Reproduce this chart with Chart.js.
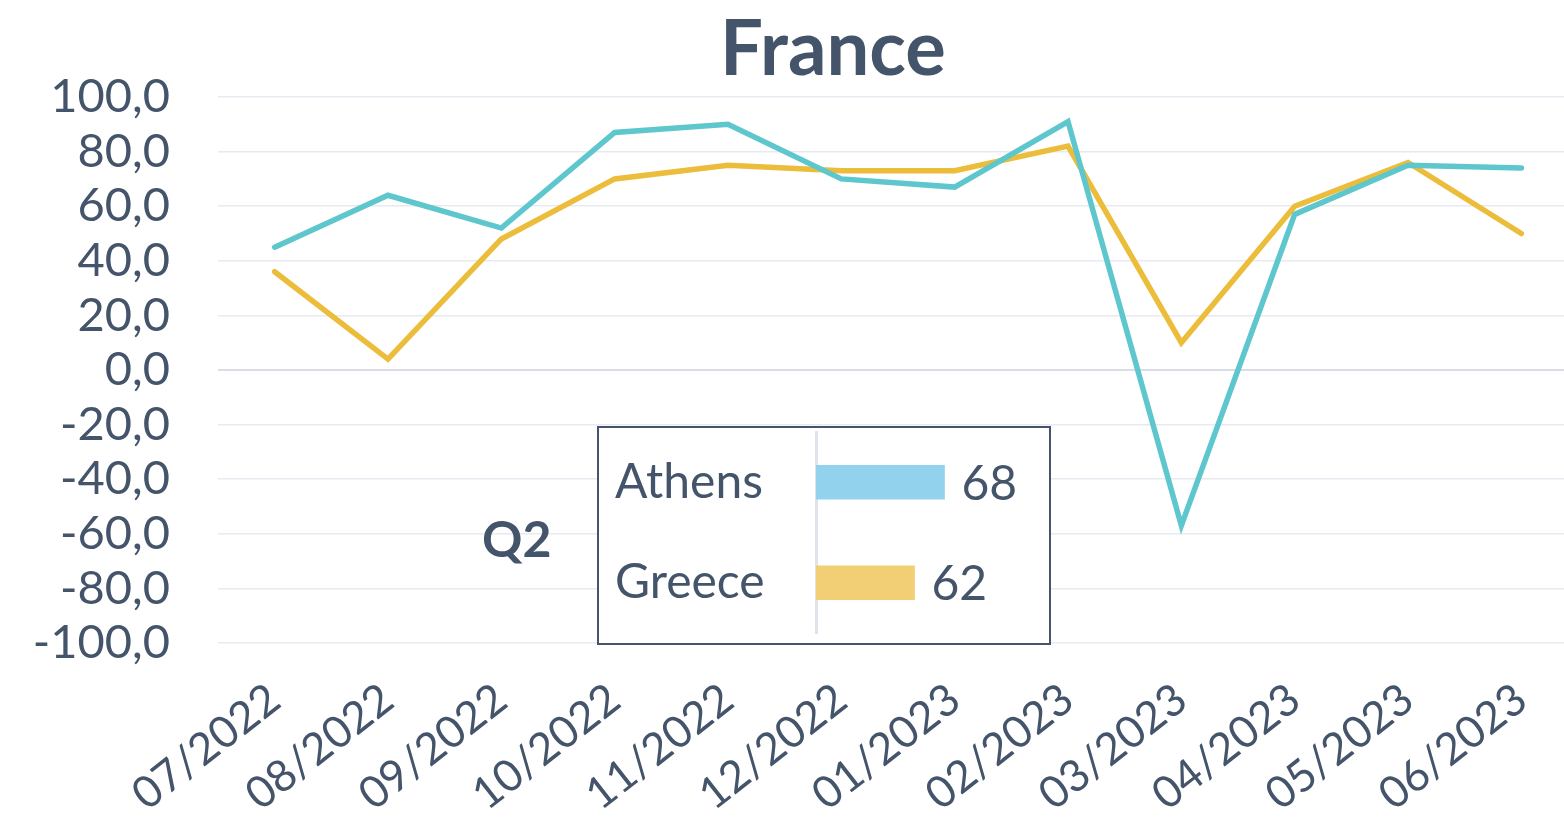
<!DOCTYPE html>
<html>
<head>
<meta charset="utf-8">
<script src="https://cdn.jsdelivr.net/npm/chart.js@4.4.0/dist/chart.umd.min.js"></script>
<style>
  html, body { margin: 0; padding: 0; background: #fff; overflow: hidden; }
  #wrap { position: relative; width: 1578px; height: 820px; }
  #main { position: absolute; left: 0; top: 0; }
  #inset {
    position: absolute; left: 597px; top: 426px; width: 454px; height: 219px;
    box-sizing: border-box; border: 2px solid #44546a; background: #fff;
  }
</style>
</head>
<body>
<div id="wrap">
  <canvas id="main" width="1578" height="820"></canvas>
  <div id="inset"><canvas id="bars" width="450" height="215"></canvas></div>
</div>
<script>
const months = ["07/2022", "08/2022", "09/2022", "10/2022", "11/2022", "12/2022",
  "01/2023", "02/2023", "03/2023", "04/2023", "05/2023", "06/2023"];
const athens = [45, 64, 52, 87, 90, 70, 67, 91, -57, 57, 75, 74];
const greece = [36, 4, 48, 70, 75, 73, 73, 82, 10, 60, 76, 50];

const q2Names = ["Athens", "Greece"];
const q2Values = [68, 62];

const textColor = "#44546a";
const teal = "#5ec6cd";
const yellow = "#ecbd3b";

// title and Q2 label
const extraText = {
  id: "extraText",
  afterDraw(chart) {
    const c = chart.ctx;
    c.save();
    c.fillStyle = textColor;
    c.textBaseline = "alphabetic";
    c.textAlign = "center";
    c.font = "bold 76px Lato";
    c.fillText("France", 833, 75);
    c.textAlign = "left";
    c.font = "bold 50px Lato";
    c.fillText("Q2", 482, 557);
    c.restore();
  }
};

new Chart(document.getElementById("main").getContext("2d"), {
  type: "line",
  data: {
    labels: months,
    datasets: [
      { label: "Athens", data: athens, borderColor: teal, backgroundColor: teal,
        borderWidth: 5.5, pointRadius: 0, tension: 0, borderCapStyle: "round" },
      { label: "Greece", data: greece, borderColor: yellow, backgroundColor: yellow,
        borderWidth: 5.5, pointRadius: 0, tension: 0, borderCapStyle: "round" }
    ]
  },
  options: {
    responsive: false,
    animation: false,
    layout: { padding: { left: 0, top: 97, right: 0, bottom: 0 } },
    plugins: { legend: { display: false }, tooltip: { enabled: false } },
    scales: {
      x: {
        offset: true,
        grid: { display: false },
        border: { display: false },
        ticks: {
          color: textColor, font: { family: "Lato", size: 44 },
          minRotation: 38, maxRotation: 38, autoSkip: false, padding: 22
        },
        afterFit(scale) {
          scale.height = 177;
          scale.paddingLeft = 0;
          scale.paddingRight = 0;
        }
      },
      y: {
        min: -100, max: 100,
        border: { display: false },
        grid: {
          color: (ctx) => ctx.tick && ctx.tick.value === 0 ? "#d9dde5" : "#e7eaf0",
          lineWidth: (ctx) => ctx.tick && ctx.tick.value === 0 ? 2 : 1.5,
          drawTicks: false
        },
        ticks: {
          stepSize: 20, autoSkip: false, color: textColor, font: { family: "Lato", size: 47 }, padding: 48,
          callback: (v) => v.toFixed(1).replace(".", ",")
        },
        afterFit(scale) {
          scale.width = 218;
          scale.paddingTop = 0;
          scale.paddingBottom = 0;
        }
      }
    }
  },
  plugins: [extraText]
});

// value labels next to the inset bars
const barValues = {
  id: "barValues",
  afterDatasetsDraw(chart) {
    const c = chart.ctx;
    const meta = chart.getDatasetMeta(0);
    c.save();
    c.fillStyle = textColor;
    c.font = "48px Lato";
    c.textBaseline = "middle";
    c.textAlign = "left";
    meta.data.forEach(function (bar, i) {
      c.fillText(String(q2Values[i]), bar.x + 17, bar.y + 2);
    });
    c.restore();
  }
};

new Chart(document.getElementById("bars").getContext("2d"), {
  type: "bar",
  data: {
    labels: q2Names,
    datasets: [{
      data: q2Values,
      backgroundColor: ["#92d2ed", "#f2cf75"],
      barThickness: 34
    }]
  },
  options: {
    indexAxis: "y",
    responsive: false,
    animation: false,
    layout: { padding: { left: 16, top: 4, right: 0, bottom: 10 } },
    plugins: { legend: { display: false }, tooltip: { enabled: false } },
    scales: {
      x: { display: false, min: 42.3, max: 88.9 },
      y: {
        grid: { display: false, drawTicks: false },
        border: { display: true, color: "#dfe4ec", width: 3 },
        ticks: { color: textColor, font: { family: "Lato", size: 48 }, crossAlign: "far", padding: 0 },
        afterFit(scale) {
          scale.width = 201;
          scale.paddingTop = 0;
          scale.paddingBottom = 0;
        }
      }
    }
  },
  plugins: [barValues]
});
</script>
</body>
</html>
